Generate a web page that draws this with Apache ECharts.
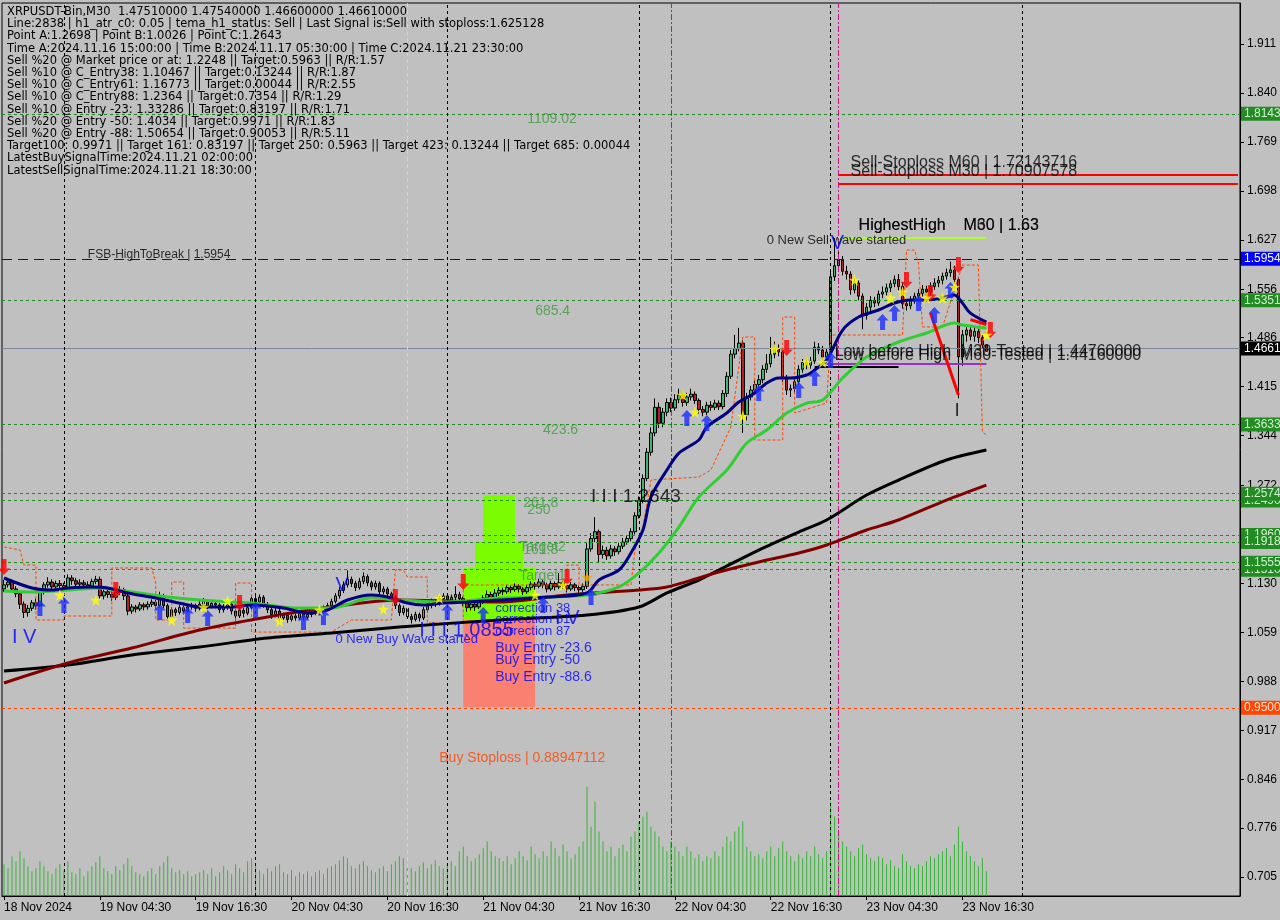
<!DOCTYPE html>
<html><head><meta charset="utf-8">
<script src="https://cdn.jsdelivr.net/npm/echarts@6.0.0/dist/echarts.min.js"></script>
<style>html,body{margin:0;padding:0;background:#C0C0C0}#c{width:1280px;height:920px}</style>
</head><body><div id="c"></div>
<script>
// ---------- DATA ----------
const infoLines = [
 'XRPUSDT-Bin,M30  1.47510000 1.47540000 1.46600000 1.46610000',
 'Line:2838 | h1_atr_c0: 0.05 | tema_h1_status: Sell | Last Signal is:Sell with stoploss:1.625128',
 'Point A:1.2698 | Point B:1.0026 | Point C:1.2643',
 'Time A:2024.11.16 15:00:00 | Time B:2024.11.17 05:30:00 | Time C:2024.11.21 23:30:00',
 'Sell %20 @ Market price or at: 1.2248 || Target:0.5963 || R/R:1.57',
 'Sell %10 @ C_Entry38: 1.10467 || Target:0.13244 || R/R:1.87',
 'Sell %10 @ C_Entry61: 1.16773 || Target:0.00044 || R/R:2.55',
 'Sell %10 @ C_Entry88: 1.2364 || Target:0.7354 || R/R:1.29',
 'Sell %10 @ Entry -23: 1.33286 || Target:0.83197 || R/R:1.71',
 'Sell %20 @ Entry -50: 1.4034 || Target:0.9971 || R/R:1.83',
 'Sell %20 @ Entry -88: 1.50654 || Target:0.90053 || R/R:5.11',
 'Target100: 0.9971 || Target 161: 0.83197 || Target 250: 0.5963 || Target 423: 0.13244 || Target 685: 0.00044',
 'LatestBuySignalTime:2024.11.21 02:00:00',
 'LatestSellSignalTime:2024.11.21 18:30:00'
];
const xTickLabels = ['18 Nov 2024','19 Nov 04:30','19 Nov 16:30','20 Nov 04:30','20 Nov 16:30','21 Nov 04:30','21 Nov 16:30','22 Nov 04:30','22 Nov 16:30','23 Nov 04:30','23 Nov 16:30'];
const yTicks = [0.705,0.776,0.846,0.917,0.988,1.059,1.130,1.201,1.272,1.344,1.415,1.486,1.556,1.627,1.698,1.769,1.840,1.911];
// candles: [open, close, low, high]
const candles = [
[1.122,1.128,1.118,1.135],[1.128,1.132,1.124,1.138],[1.132,1.122,1.118,1.136],[1.122,1.115,1.110,1.126],[1.115,1.100,1.093,1.118],
[1.100,1.088,1.080,1.104],[1.088,1.094,1.082,1.099],[1.094,1.102,1.090,1.106],[1.102,1.098,1.092,1.108],[1.098,1.118,1.096,1.122],
[1.118,1.128,1.114,1.132],[1.128,1.132,1.124,1.139],[1.132,1.125,1.120,1.136],[1.125,1.130,1.121,1.134],[1.130,1.127,1.122,1.135],
[1.127,1.124,1.119,1.131],[1.124,1.138,1.122,1.143],[1.138,1.134,1.128,1.142],[1.134,1.129,1.125,1.138],[1.129,1.131,1.124,1.136],
[1.131,1.128,1.123,1.135],[1.128,1.126,1.121,1.133],[1.126,1.133,1.123,1.137],[1.133,1.136,1.129,1.141],[1.136,1.112,1.108,1.140],
[1.112,1.118,1.107,1.122],[1.118,1.114,1.109,1.121],[1.114,1.110,1.105,1.118],[1.110,1.117,1.106,1.121],[1.117,1.121,1.113,1.126],
[1.121,1.112,1.106,1.124],[1.112,1.090,1.084,1.115],[1.090,1.096,1.086,1.100],[1.096,1.093,1.088,1.099],[1.093,1.099,1.090,1.103],
[1.099,1.096,1.091,1.102],[1.096,1.100,1.092,1.104],[1.100,1.103,1.096,1.107],[1.103,1.098,1.093,1.106],[1.098,1.112,1.095,1.118],
[1.112,1.098,1.094,1.115],[1.098,1.082,1.077,1.101],[1.082,1.092,1.079,1.096],[1.092,1.088,1.083,1.095],[1.088,1.095,1.085,1.099],
[1.095,1.090,1.085,1.098],[1.090,1.096,1.087,1.100],[1.096,1.098,1.092,1.102],[1.098,1.094,1.089,1.101],[1.094,1.100,1.091,1.105],
[1.100,1.104,1.096,1.109],[1.104,1.097,1.093,1.107],[1.097,1.101,1.094,1.105],[1.101,1.099,1.094,1.104],[1.099,1.092,1.087,1.102],
[1.092,1.096,1.088,1.100],[1.096,1.100,1.092,1.104],[1.100,1.090,1.085,1.103],[1.090,1.083,1.077,1.093],[1.083,1.091,1.080,1.095],
[1.091,1.087,1.081,1.095],[1.087,1.095,1.084,1.099],[1.095,1.108,1.092,1.113],[1.108,1.103,1.098,1.112],[1.103,1.110,1.100,1.114],
[1.110,1.100,1.095,1.113],[1.100,1.092,1.087,1.103],[1.092,1.085,1.079,1.095],[1.085,1.090,1.081,1.094],[1.090,1.080,1.074,1.093],
[1.080,1.084,1.076,1.088],[1.084,1.078,1.073,1.087],[1.078,1.083,1.075,1.087],[1.083,1.080,1.076,1.086],[1.080,1.086,1.077,1.090],
[1.086,1.081,1.077,1.089],[1.081,1.085,1.078,1.089],[1.085,1.088,1.081,1.092],[1.088,1.092,1.084,1.096],[1.092,1.089,1.085,1.095],
[1.089,1.094,1.086,1.098],[1.094,1.098,1.090,1.102],[1.098,1.104,1.095,1.108],[1.104,1.112,1.101,1.116],[1.112,1.120,1.108,1.125],
[1.120,1.128,1.116,1.133],[1.128,1.136,1.124,1.149],[1.136,1.130,1.125,1.140],[1.130,1.124,1.119,1.134],[1.124,1.133,1.121,1.138],
[1.133,1.140,1.129,1.146],[1.140,1.131,1.126,1.143],[1.131,1.125,1.120,1.134],[1.125,1.130,1.121,1.134],[1.130,1.118,1.113,1.133],
[1.118,1.122,1.114,1.126],[1.122,1.115,1.110,1.125],[1.115,1.110,1.105,1.118],[1.110,1.098,1.093,1.113],[1.098,1.088,1.083,1.101],
[1.088,1.094,1.084,1.098],[1.094,1.082,1.077,1.097],[1.082,1.078,1.072,1.086],[1.078,1.085,1.075,1.089],[1.085,1.080,1.075,1.088],
[1.080,1.092,1.077,1.096],[1.092,1.098,1.088,1.102],[1.098,1.104,1.094,1.108],[1.104,1.101,1.096,1.107],[1.101,1.108,1.098,1.112],
[1.108,1.112,1.104,1.116],[1.112,1.106,1.101,1.115],[1.106,1.110,1.102,1.114],[1.110,1.114,1.106,1.126],[1.114,1.108,1.103,1.118],
[1.108,1.102,1.097,1.111],[1.102,1.095,1.089,1.105],[1.095,1.100,1.091,1.104],[1.100,1.096,1.090,1.103],[1.096,1.104,1.093,1.108],
[1.104,1.109,1.100,1.113],[1.109,1.114,1.105,1.120],[1.114,1.108,1.103,1.118],[1.108,1.116,1.105,1.122],[1.116,1.120,1.112,1.125],
[1.120,1.118,1.113,1.124],[1.118,1.124,1.115,1.128],[1.124,1.121,1.116,1.127],[1.121,1.126,1.118,1.130],[1.126,1.122,1.117,1.129],
[1.122,1.118,1.113,1.125],[1.118,1.124,1.115,1.128],[1.124,1.129,1.120,1.133],[1.129,1.126,1.121,1.132],[1.126,1.132,1.123,1.137],
[1.132,1.128,1.123,1.135],[1.128,1.122,1.117,1.131],[1.122,1.130,1.119,1.134],[1.130,1.125,1.120,1.133],[1.125,1.131,1.122,1.145],
[1.131,1.127,1.122,1.134],[1.127,1.122,1.117,1.130],[1.122,1.128,1.119,1.132],[1.128,1.124,1.119,1.131],[1.124,1.121,1.116,1.127],
[1.121,1.126,1.118,1.130],[1.126,1.180,1.122,1.190],[1.180,1.195,1.176,1.203],[1.195,1.205,1.190,1.226],[1.205,1.172,1.161,1.208],
[1.172,1.178,1.166,1.185],[1.178,1.170,1.164,1.183],[1.170,1.180,1.166,1.186],[1.180,1.176,1.170,1.184],[1.176,1.184,1.172,1.189],
[1.184,1.190,1.180,1.196],[1.190,1.195,1.186,1.200],[1.195,1.205,1.191,1.210],[1.205,1.228,1.201,1.233],[1.228,1.250,1.224,1.256],
[1.250,1.282,1.246,1.288],[1.282,1.320,1.278,1.326],[1.320,1.348,1.315,1.356],[1.348,1.385,1.343,1.398],[1.385,1.362,1.355,1.392],
[1.362,1.378,1.356,1.384],[1.378,1.392,1.372,1.398],[1.392,1.384,1.378,1.399],[1.384,1.396,1.380,1.404],[1.396,1.403,1.391,1.412],
[1.403,1.392,1.386,1.408],[1.392,1.400,1.387,1.406],[1.400,1.404,1.395,1.412],[1.404,1.395,1.390,1.408],[1.395,1.382,1.376,1.398],
[1.382,1.378,1.372,1.387],[1.378,1.388,1.374,1.393],[1.388,1.385,1.380,1.394],[1.385,1.391,1.381,1.396],[1.391,1.386,1.381,1.395],
[1.386,1.405,1.382,1.410],[1.405,1.430,1.400,1.436],[1.430,1.462,1.426,1.468],[1.462,1.470,1.456,1.490],[1.470,1.478,1.466,1.500],
[1.478,1.374,1.348,1.482],[1.374,1.400,1.366,1.406],[1.400,1.410,1.395,1.416],[1.410,1.418,1.404,1.424],[1.418,1.425,1.412,1.432],
[1.425,1.440,1.420,1.446],[1.440,1.448,1.435,1.462],[1.448,1.462,1.443,1.487],[1.462,1.470,1.456,1.480],[1.470,1.465,1.459,1.476],
[1.465,1.428,1.422,1.468],[1.428,1.410,1.403,1.432],[1.410,1.412,1.400,1.418],[1.412,1.422,1.406,1.427],[1.422,1.440,1.418,1.446],
[1.440,1.450,1.435,1.455],[1.450,1.446,1.440,1.456],[1.446,1.452,1.441,1.458],[1.452,1.472,1.448,1.480],[1.472,1.468,1.462,1.478],
[1.468,1.458,1.452,1.474],[1.458,1.465,1.453,1.470],[1.465,1.574,1.460,1.582],[1.574,1.590,1.568,1.630],[1.590,1.598,1.584,1.612],
[1.598,1.582,1.576,1.604],[1.582,1.578,1.570,1.590],[1.578,1.555,1.548,1.582],[1.555,1.565,1.550,1.572],[1.565,1.546,1.540,1.569],
[1.546,1.518,1.498,1.550],[1.518,1.530,1.512,1.536],[1.530,1.540,1.524,1.546],[1.540,1.536,1.530,1.545],[1.536,1.549,1.532,1.554],
[1.549,1.552,1.543,1.560],[1.552,1.558,1.547,1.564],[1.558,1.564,1.552,1.569],[1.564,1.570,1.559,1.576],[1.570,1.560,1.554,1.578],
[1.560,1.535,1.528,1.566],[1.535,1.532,1.525,1.541],[1.532,1.540,1.527,1.546],[1.540,1.546,1.535,1.551],[1.546,1.550,1.540,1.556],
[1.550,1.556,1.545,1.562],[1.556,1.552,1.546,1.561],[1.552,1.560,1.547,1.566],[1.560,1.565,1.555,1.572],[1.565,1.569,1.559,1.575],
[1.569,1.575,1.563,1.580],[1.575,1.580,1.570,1.586],[1.580,1.584,1.574,1.596],[1.584,1.570,1.564,1.590],[1.570,1.458,1.398,1.574],
[1.458,1.490,1.445,1.497],[1.490,1.497,1.480,1.505],[1.497,1.488,1.482,1.502],[1.488,1.495,1.480,1.500],[1.495,1.486,1.478,1.499],
[1.486,1.4751,1.470,1.490],[1.4751,1.4661,1.4660,1.4754]
];
const volumes = [
32,28,40,35,45,38,30,25,28,35,30,25,22,28,32,26,35,24,22,28,20,25,30,34,40,
28,25,22,30,26,32,38,30,24,22,20,25,28,22,30,34,40,28,24,26,22,25,20,22,24,
26,22,28,20,24,30,26,22,32,28,24,35,38,30,26,22,28,25,30,32,24,22,26,20,24,
22,25,20,24,26,22,28,30,32,36,40,38,30,28,32,35,30,26,24,28,30,25,32,35,40,
38,30,28,25,30,34,28,32,36,30,28,32,35,30,45,50,40,35,38,42,48,55,45,40,38,
35,40,32,38,45,40,36,50,42,38,45,40,55,48,40,52,45,38,42,50,55,110,70,95,65,
55,45,50,40,48,52,45,60,65,75,80,85,70,65,60,50,45,55,50,45,40,50,45,38,42,
35,40,38,45,40,50,60,55,65,70,75,50,45,40,42,38,45,50,40,48,55,45,40,35,42,
38,45,40,50,42,38,45,95,80,65,55,50,45,40,48,52,42,38,35,40,38,32,36,30,28,
42,35,30,28,32,30,35,40,38,42,45,48,40,52,70,55,45,40,35,30,38,25
];
// indicator lines: [bar index, price]
const navyLine = [[0,1.1379],[7,1.1234],[12,1.1205],[16,1.1234],[22,1.1249],[26,1.1234],[31,1.1162],[38,1.1089],[45,1.1002],[49,1.0959],[57,1.0959],[62,1.0988],[70,1.0944],[76,1.0872],[81,1.0916],[86,1.1060],[92,1.1133],[96,1.1104],[101,1.1017],[105,1.0988],[110,1.1017],[116,1.1031],[124,1.1060],[136,1.1104],[146,1.1162],[149,1.1350],[154,1.1495],[157,1.1741],[160,1.2074],[162,1.2552],[166,1.2942],[169,1.3188],[174,1.3377],[176,1.3565],[181,1.3768],[184,1.3927],[188,1.4057],[191,1.4202],[194,1.4274],[197,1.4274],[201,1.4318],[203,1.4390],[206,1.4535],[210,1.4969],[214,1.5158],[219,1.5259],[223,1.5360],[227,1.5404],[231,1.5404],[236,1.5447],[238,1.5476],[240,1.5360],[242,1.5215],[246,1.5085]];
const greenLine = [[0,1.1191],[7,1.1176],[16,1.1205],[24,1.1234],[32,1.1176],[41,1.1104],[49,1.1060],[57,1.1031],[62,1.1017],[74,1.0944],[82,1.0944],[92,1.1089],[99,1.1060],[111,1.1031],[124,1.1089],[136,1.1104],[146,1.1133],[154,1.1249],[159,1.1452],[164,1.1741],[169,1.2117],[174,1.2552],[181,1.2942],[186,1.3333],[191,1.3521],[196,1.3768],[201,1.3912],[205,1.3956],[210,1.4274],[216,1.4578],[224,1.4796],[231,1.4926],[238,1.5071],[240,1.5042],[246,1.4998]];
const maroonLine = [[0,0.9859],[16,1.0148],[32,1.0365],[49,1.0626],[66,1.0814],[82,1.0959],[99,1.1060],[124,1.1031],[141,1.1133],[159,1.1205],[166,1.1249],[174,1.1379],[179,1.1466],[189,1.1611],[199,1.1741],[206,1.1857],[216,1.2074],[224,1.2219],[236,1.2508],[246,1.2725]];
const blackLine = [[0,1.0032],[16,1.0119],[32,1.0264],[49,1.0380],[66,1.0510],[82,1.0583],[99,1.0669],[124,1.0771],[146,1.0843],[159,1.0959],[166,1.1162],[174,1.1350],[179,1.1495],[189,1.1784],[199,1.2045],[206,1.2219],[216,1.2580],[224,1.2797],[236,1.3087],[246,1.3232]];
const orangeChannel = [[0,1.1828],[4,1.1784],[5,1.1567],[8,1.1567],[8,1.0771],[15,1.0771],[15,1.0829],[27,1.0829],[27,1.1524],[37,1.1524],[38,1.1306],[38,1.0771],[42,1.0771],[42,1.1321],[45,1.1321],[45,1.0654],[58,1.0654],[58,1.1306],[62,1.1306],[62,1.0596],[82,1.0596],[87,1.0771],[97,1.0771],[98,1.1495],[100,1.1495],[101,1.1393],[106,1.1393],[106,1.0727],[115,1.0727],[115,1.1278],[119,1.1278],[141,1.1278],[141,1.1567],[144,1.1567],[144,1.1278],[157,1.1278],[158,1.1784],[160,1.2117],[162,1.2798],[174,1.2841],[177,1.2942],[182,1.3565],[185,1.4868],[188,1.4868],[188,1.3377],[195,1.3377],[195,1.5158],[198,1.5158],[198,1.3768],[206,1.3912],[207,1.4897],[225,1.4897],[226,1.6127],[228,1.6127],[229,1.5939],[230,1.5013],[235,1.5013],[240,1.5910],[244,1.5910],[245,1.3493],[246,1.3449]];
const zigzagRed = [[232,1.5215],[239,1.4028]];
const shortRed = [[242,1.512],[246,1.505]];
const buyArrows = [[8.5,1.0944],[14.75,1.0988],[38.5,1.0886],[45.75,1.0843],[50.75,1.0799],[62.75,1.0916],[74.5,1.0742],[79.5,1.0814],[110.75,1.0886],[119.5,1.0843],[134.75,1.0988],[146.5,1.1104],[170.75,1.3695],[175.75,1.3623],[188.5,1.4057],[198.75,1.4101],[202.75,1.4274],[207,1.4535],[219.5,1.5085],[222.75,1.5215],[229,1.5360],[232.75,1.5186],[236.5,1.5548]];
const sellArrows = [[0,1.1538],[27.75,1.1205],[58.5,1.1017],[97.75,1.1104],[114.75,1.1321],[140.75,1.1393],[195.75,1.4709],[225.75,1.5693],[231.5,1.5505],[238.5,1.5910],[246.5,1.4969]];
const stars = [[13.5,1.1133],[22.75,1.1060],[41.75,1.0771],[49.5,1.0959],[55.75,1.1046],[68.5,1.0756],[78.5,1.0916],[94.75,1.0930],[108.5,1.1089],[132.75,1.1133],[139.75,1.1278],[169.75,1.4028],[172.5,1.3782],[184.75,1.3724],[192.75,1.4694],[200.75,1.4506],[204.75,1.4506],[212.75,1.5693],[221.5,1.5433],[224.75,1.5520],[230.75,1.5433],[234.75,1.5433],[237.75,1.5592],[245.75,1.4897]];
const orangeStars = [[145.75,1.1393]];
// horizontal levels
const fibLevels = [1.8143,1.5352,1.3634,1.2574,1.1918,1.1555];
const fibLevels2 = [1.2490,1.1960,1.1510];
const fibBoxText = ['1.81434','1.53519','1.36338','1.25741','1.19180','1.15552'];
const fsbHigh = 1.5954, lastPrice = 1.4661, buyStop = 0.9500;
const sellStopM60 = 1.72143716, sellStopM30 = 1.70907578, highestHigh = 1.63;
const lowBeforeHighM30 = 1.4476, lowBeforeHighM60 = 1.4434;
const daySeparators = [15,63,111,159,207,255];
// zones [x1, y1, x2, y2]
const limeZones = [[115,1.1524,133,1.0771],[118,1.1900,130,1.0771],[120,1.2580,128,1.0771]];
const salmonZones = [[115,1.0771,133,0.9510]];
// texts [idx, price, text]
const fibTexts = [[130.5,1.8024,'1109.02'],[133.25,1.5244,'685.4'],[135.25,1.3522,'423.6'],[129.75,1.2465,'261.8'],[131,1.2363,'250'],[128.5,1.1827,'Target2'],[129.5,1.1784,'161.8'],[128.5,1.1408,'Target1']];
const bigBlackTexts = [[212,1.7387,'Sell-Stoploss M60 | 1.72143716'],[212,1.7257,'Sell-Stoploss M30 | 1.70907578'],[213.5,1.6475,'HighestHigh    M30 | 1.63'],[213.5,1.6475,'HighestHigh    M60 | 1.63'],[207.75,1.4651,'Low before High  M30-Tested | 1.44760000'],[207.75,1.4593,'Low before High  M60-Tested | 1.44160000']];
const fsbTexts = [[21.25,1.6055,'FSB-HighToBreak | 1.5954']];
const smallBlackTexts = [[191,1.6272,'0 New Sell wave started']];
const waveBlackTexts = [[146.5,1.2552,'I I I 1.2643'],[238.25,1.3797,'I']];
const waveBlueTexts = [[103.5,1.0626,'I I I 1.0855'],[2,1.0525,'I V'],[83,1.1277,'V'],[138,1.0799,'I V'],[207,1.6229,'V']];
const blueSmallTexts = [[82.5,1.0496,'0 New Buy Wave started']];
const correctionTexts = [[123.25,1.0944,'correction 38'],[123.25,1.0785,'correction 61'],[123.25,1.0610,'correction 87']];
const buyEntryTexts = [[122.5,1.0365,'Buy Entry -23.6'],[122.5,1.0192,'Buy Entry -50'],[122.5,0.9945,'Buy Entry -88.6']];
const stopTexts = [[109,0.8773,'Buy Stoploss | 0.88947112']];

// ---------- CHART ----------
const N = 310;
const pad = n => String(n).padStart(2,'0');
const categories = [];
for (let i = 0; i < N; i++) {
  const d = new Date(Date.UTC(2024,10,18,16,30) + i*1800000);
  categories.push(d.getUTCFullYear()+'.'+pad(d.getUTCMonth()+1)+'.'+pad(d.getUTCDate())+' '+pad(d.getUTCHours())+':'+pad(d.getUTCMinutes()));
}
const catIndex = {}; categories.forEach((c,i)=>catIndex[c]=i);
const FONT = '"Liberation Sans", Arial, sans-serif';
const FONT2 = '"DejaVu Sans", sans-serif';
const showTick = i => i % 24 === 0 && i <= 240;

function textSeries(data, color, size, font) {
  return { type:'scatter', data: data.map(d=>[d[0],d[1],d[2]]), symbolSize:0, z:10, silent:true,
    label:{show:true, position:'right', distance:0, formatter:p=>p.value[2], color:color, fontSize:size, fontFamily:font||FONT} };
}
const upArrow = 'path://M6,0 L12,6 L8.5,6 L8.5,15 L3.5,15 L3.5,6 L0,6 Z';
const downArrow = 'path://M3.5,0 L8.5,0 L8.5,9 L12,9 L6,15 L0,9 L3.5,9 Z';
const starPath = 'path://M50,0 L61,35 L98,35 L68,57 L79,91 L50,70 L21,91 L32,57 L2,35 L39,35 Z';

const boxLabel = (txt, bg, fg) => ({show:true, position:'end', distance:1, formatter:txt, backgroundColor:bg, color:fg, fontSize:12, fontFamily:FONT, padding:[1,3,1,3]});

const hLines = [];
fibLevels2.forEach(v => hLines.push({yAxis:v, lineStyle:{color:'#1F8A1F', type:[3,3], width:1}, label:boxLabel(v.toFixed(5), '#228B22', '#D0F0D0')}));
fibLevels.forEach((v,i) => hLines.push({yAxis:v, lineStyle:{color:'#1F8A1F', type:[3,3], width:1}, label:boxLabel(fibBoxText[i], '#228B22', '#D0F0D0')}));
hLines.push({yAxis:fsbHigh, lineStyle:{color:'#0000FF', type:[10,6], width:1}, label:boxLabel('1.59540', '#0000FF', '#FFFFFF')});
hLines.push({yAxis:lastPrice, lineStyle:{color:'#778899', type:'solid', width:1}, label:boxLabel('1.46610', '#000000', '#FFFFFF')});
hLines.push({yAxis:buyStop, lineStyle:{color:'#FF4500', type:[3,3], width:1}, label:boxLabel('0.95000', '#FF4500', '#FFE0D0')});

const vLines = [];
daySeparators.forEach(i => vLines.push({xAxis:categories[i], lineStyle:{color:'#000', type:[3,3], width:1}}));
vLines.push({xAxis:categories[101], lineStyle:{color:'#A8E4F0', type:[4,3], width:1}});
vLines.push({xAxis:categories[167], lineStyle:{color:'#C71585', type:[6,2,2,2], width:1}});
vLines.push({xAxis:categories[209], lineStyle:{color:'#C71585', type:[6,2,2,2], width:1}});

const segLines = [
  [{coord:[209,sellStopM60], lineStyle:{color:'#FF0000',width:2,type:'solid'}},{coord:[309,sellStopM60]}],
  [{coord:[209,sellStopM30], lineStyle:{color:'#FF0000',width:2,type:'solid'}},{coord:[309,sellStopM30]}],
  [{coord:[209,highestHigh], lineStyle:{color:'#ADFF2F',width:2,type:'solid'}},{coord:[246,highestHigh]}],
  [{coord:[206,lowBeforeHighM30], lineStyle:{color:'#9932CC',width:2,type:'solid'}},{coord:[246,lowBeforeHighM30]}],
  [{coord:[203,lowBeforeHighM60], lineStyle:{color:'#000000',width:2,type:'solid'}},{coord:[224,lowBeforeHighM60]}]
];

const zoneAreas = [];
limeZones.forEach(z => zoneAreas.push([{coord:[z[0],z[1]], itemStyle:{color:'#7CFC00'}},{coord:[z[2],z[3]]}]));
salmonZones.forEach(z => zoneAreas.push([{coord:[z[0],z[1]], itemStyle:{color:'#FA8072'}},{coord:[z[2],z[3]]}]));

const chart = echarts.init(document.getElementById('c'), null, {renderer:'canvas'});
chart.setOption({
  animation:false,
  backgroundColor:'#C0C0C0',
  textStyle:{fontFamily:FONT},
  graphic:[{type:'text', left:7, top:6, z:100, style:{text:infoLines.join('\n'), fontSize:11.5, fontFamily:FONT2, fill:'#000', lineHeight:12.2}}],
  grid:{left:2, right:40, top:3, bottom:24, show:true, borderColor:'#000', borderWidth:1, backgroundColor:'transparent'},
  xAxis:{type:'category', data:categories, boundaryGap:true,
    axisLine:{show:true, lineStyle:{color:'#000'}},
    axisTick:{show:true, interval:showTick, alignWithLabel:true, length:4, lineStyle:{color:'#000'}},
    axisLabel:{interval:showTick, formatter:v=>xTickLabels[catIndex[v]/24], align:'left', margin:6, color:'#000', fontSize:12, fontFamily:FONT},
    splitLine:{show:false}},
  yAxis:[
    {type:'value', position:'right', min:0.6775, max:1.9704, scale:true,
     axisLine:{show:true, lineStyle:{color:'#000'}},
     axisTick:{show:true, length:4, customValues:yTicks, lineStyle:{color:'#000'}},
     axisLabel:{customValues:yTicks, formatter:v=>v.toFixed(3), margin:7, color:'#000', fontSize:12, fontFamily:FONT},
     splitLine:{show:false}},
    {type:'value', min:0, max:900, show:false}
  ],
  series:[
    {type:'line', data:[], z:1, silent:true, markArea:{silent:true, data:zoneAreas}},
    {type:'bar', yAxisIndex:1, data:volumes, barWidth:1, itemStyle:{color:'#33B833'}, z:2, silent:true},
    {type:'line', data:[], z:3, silent:true,
      markLine:{silent:true, symbol:['none','none'], animation:false, label:{show:false}, data:[...hLines, ...vLines, ...segLines]}},
    {type:'candlestick', data:candles, barWidth:3, z:4, silent:true,
      itemStyle:{color:'#3CB371', color0:'#B22222', borderColor:'#000', borderColor0:'#000', borderWidth:1}},
    {type:'line', data:orangeChannel, showSymbol:false, z:5, silent:true, lineStyle:{color:'#FF4500', width:1, type:[3,2]}},
    {type:'line', data:blackLine, showSymbol:false, smooth:0.3, z:6, silent:true, lineStyle:{color:'#000000', width:3}},
    {type:'line', data:maroonLine, showSymbol:false, smooth:0.3, z:6, silent:true, lineStyle:{color:'#800000', width:3}},
    {type:'line', data:greenLine, showSymbol:false, smooth:0.3, z:6, silent:true, lineStyle:{color:'#32CD32', width:3}},
    {type:'line', data:navyLine, showSymbol:false, smooth:0.3, z:6, silent:true, lineStyle:{color:'#000080', width:3}},
    {type:'line', data:zigzagRed, showSymbol:false, z:7, silent:true, lineStyle:{color:'#FF0000', width:3}},
    {type:'line', data:shortRed, showSymbol:false, z:7, silent:true, lineStyle:{color:'#FF0000', width:3}},
    {type:'scatter', data:buyArrows, symbol:upArrow, symbolSize:[12,16], z:8, silent:true, itemStyle:{color:'#1A2CFF'}},
    {type:'scatter', data:sellArrows, symbol:downArrow, symbolSize:[12,16], z:8, silent:true, itemStyle:{color:'#FF0000'}},
    {type:'scatter', data:stars, symbol:starPath, symbolSize:12, z:8, silent:true, itemStyle:{color:'#FFFF00'}},
    {type:'scatter', data:orangeStars, symbol:starPath, symbolSize:12, z:8, silent:true, itemStyle:{color:'#FFA500'}},
    textSeries(fibTexts, '#3C9C3C', 14),
    textSeries(bigBlackTexts, '#000', 16),
    textSeries(fsbTexts, '#000', 12),
    textSeries(smallBlackTexts, '#000', 13),
    textSeries(waveBlackTexts, '#000', 19),
    textSeries(waveBlueTexts, '#0000FF', 20),
    textSeries(blueSmallTexts, '#0000FF', 13),
    textSeries(correctionTexts, '#0000FF', 13),
    textSeries(buyEntryTexts, '#0000FF', 14),
    textSeries(stopTexts, '#FF4500', 14)
  ]
});
</script></body></html>
